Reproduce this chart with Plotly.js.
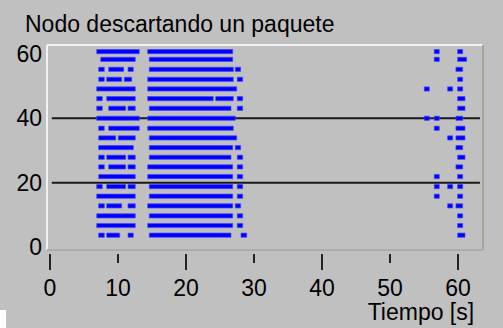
<!DOCTYPE html>
<html>
<head>
<meta charset="utf-8">
<script src="https://cdn.plot.ly/plotly-3.0.1.min.js"></script>
<style>
  html, body { margin: 0; padding: 0; background: #ffffff; }
  #chart { width: 503px; height: 328px; }
  #corner { position: absolute; left: 0; top: 310px; width: 6px; height: 18px; background: #ffffff; }
</style>
</head>
<body>
<div id="chart"></div>
<div id="corner"></div>
<script>
// ---- data ----
const titleText = 'Nodo descartando un paquete';
const xTitleText = 'Tiempo [s]';
const xTickVals = [0, 10, 20, 30, 40, 50, 60];
const xMajorTickVals = [0, 20, 40, 60];
const yTickVals = [0, 20, 40, 60];
const refLines = [20, 40];

// y position of each node row (top to bottom)
const rowY = [60.7, 58.3, 55.2, 52.1, 49.1, 46.1, 43.1, 40.0, 36.9, 33.9,
              30.9, 27.9, 24.9, 21.9, 18.8, 15.8, 12.8, 9.7, 6.7, 3.7];

// activity intervals [start, end] in seconds for each row
const segments = [
  [[6.87,13.13],[14.37,26.87],[56.51,57.25],[59.95,60.69]],
  [[7.46,12.54],[14.60,26.87],[56.51,57.25],[59.95,61.27]],
  [[7.16,7.99],[8.63,10.84],[11.47,12.25],[14.60,26.96],[27.25,28.04],[59.70,60.69]],
  [[7.16,7.99],[8.34,10.54],[10.93,12.01],[14.37,26.96],[27.54,28.34],[59.95,60.69]],
  [[6.87,12.54],[14.37,27.46],[55.04,55.78],[58.48,59.22],[59.95,60.69]],
  [[6.87,7.69],[8.34,12.54],[14.37,24.01],[24.37,26.96],[27.54,28.34],[59.95,61.03]],
  [[6.87,7.69],[8.63,11.13],[11.47,12.54],[14.60,26.62],[27.54,28.34],[59.95,61.03]],
  [[6.87,13.13],[14.37,27.25],[55.04,55.78],[56.51,57.25],[59.70,60.69]],
  [[7.16,7.99],[8.63,13.13],[14.37,26.96],[56.51,57.25],[59.70,61.03]],
  [[7.16,9.66],[10.04,12.54],[14.60,27.46],[58.48,59.22],[59.70,61.03]],
  [[7.16,12.25],[14.60,26.87],[27.25,28.04],[59.70,60.69]],
  [[7.16,7.99],[8.34,11.13],[11.47,12.54],[14.60,26.62],[27.54,28.34],[59.95,61.03]],
  [[7.16,7.99],[8.63,11.13],[11.47,12.54],[14.37,26.87],[27.54,28.34],[59.70,60.69]],
  [[7.16,12.54],[14.37,26.87],[27.54,28.34],[56.51,57.25],[59.95,60.69]],
  [[6.87,7.69],[8.34,11.13],[11.47,12.54],[14.60,26.87],[27.54,28.34],[56.51,57.25],[58.48,59.22],[59.95,60.69]],
  [[6.87,12.54],[14.60,26.87],[27.54,28.34],[56.51,57.25],[59.95,60.69]],
  [[7.16,7.99],[8.34,10.54],[11.47,12.54],[14.37,26.87],[27.25,28.04],[58.48,59.22],[59.70,60.69]],
  [[6.87,12.54],[14.60,26.87],[27.54,28.34],[59.95,60.69]],
  [[6.87,12.54],[14.37,26.87],[27.54,28.34],[59.95,60.69]],
  [[7.16,7.99],[8.34,10.25],[11.47,12.25],[14.60,26.62],[28.09,28.93],[59.95,61.03]]
];

// ---- build bar trace (horizontal bars with base = start) ----
const barY = [], barBase = [], barLen = [];
segments.forEach((row, i) => {
  row.forEach(([s, e]) => {
    barY.push(rowY[i]);
    barBase.push(s);
    barLen.push(e - s);
  });
});

const FONT = 'Arial, "Liberation Sans", Helvetica, sans-serif';
const FS = 23;

const data = [
  {
    type: 'bar',
    orientation: 'h',
    y: barY,
    x: barLen,
    base: barBase,
    width: 1.3,
    marker: { color: '#0000ff', line: { color: 'rgba(70,70,255,0.7)', width: 1 } },
    hoverinfo: 'skip',
    showlegend: false
  },
  // invisible helper traces so the extra axes (major ticks, title) are drawn
  { type: 'scatter', mode: 'markers', x: [30], y: [30], xaxis: 'x2', yaxis: 'y', opacity: 0, showlegend: false, hoverinfo: 'skip' },
  { type: 'scatter', mode: 'markers', x: [], y: [], xaxis: 'x3', yaxis: 'y', showlegend: false, hoverinfo: 'skip' }
];

const xRange = [-0.44, 63.68];
const shapes = refLines.map(v => ({
  type: 'line', xref: 'x domain', yref: 'y', x0: 0.011, x1: 0.993, y0: v, y1: v,
  line: { color: '#1a1a1a', width: 2 }, layer: 'below'
}));
// sunken frame around the plot area
shapes.push(
  { type: 'line', xref: 'x domain', yref: 'y domain', x0: 0, x1: 1, y0: 1, y1: 1, line: { color: '#f2f2f2', width: 2 } },
  { type: 'line', xref: 'x domain', yref: 'y domain', x0: 0, x1: 0, y0: 0, y1: 1, line: { color: '#f2f2f2', width: 2 } },
  { type: 'line', xref: 'x domain', yref: 'y domain', x0: 1, x1: 1, y0: 0, y1: 1, line: { color: '#a8a49c', width: 2 } },
  { type: 'line', xref: 'x domain', yref: 'y domain', x0: 0, x1: 1, y0: 0, y1: 0, line: { color: '#b0aca4', width: 2 } }
);

const layout = {
  width: 503,
  height: 328,
  paper_bgcolor: '#c0c0c0',
  plot_bgcolor: 'rgba(0,0,0,0)',
  margin: { l: 47, r: 20, t: 45, b: 75, pad: 0 },
  font: { family: FONT, size: FS, color: '#000000' },
  title: {
    text: titleText,
    font: { family: FONT, size: FS, color: '#000000' },
    xref: 'container', yref: 'container',
    x: 25 / 503, xanchor: 'left',
    y: 1 - 24 / 328, yanchor: 'middle'
  },
  bargap: 0,
  barmode: 'overlay',
  xaxis: {
    domain: [0, 1],
    range: xRange,
    anchor: 'free', position: 0,
    tickmode: 'array', tickvals: xTickVals,
    ticks: 'outside', ticklen: 9, tickwidth: 2, tickcolor: '#222222',
    tickfont: { family: FONT, size: FS, color: '#000000' },
    ticklabelstandoff: 5,
    showgrid: false, zeroline: false, showline: false, fixedrange: true
  },
  xaxis2: {
    domain: [0, 1],
    range: xRange,
    anchor: 'free', position: 0,
    tickmode: 'array', tickvals: xMajorTickVals,
    ticks: 'outside', ticklen: 16, tickwidth: 2, tickcolor: '#222222',
    showticklabels: false,
    showgrid: false, zeroline: false, showline: false, fixedrange: true
  },
  xaxis3: {
    domain: [0.7576, 0.9576],
    anchor: 'free', position: 0,
    range: [0, 1],
    ticks: '', showticklabels: false,
    showgrid: false, zeroline: false, showline: false, fixedrange: true,
    title: { text: xTitleText, font: { family: FONT, size: FS, color: '#000000' }, standoff: 50 }
  },
  yaxis: {
    domain: [3 / 208, 1],
    range: [-0.9, 62.75],
    tickmode: 'array', tickvals: yTickVals,
    ticks: '', ticklen: 0,
    tickfont: { family: FONT, size: FS, color: '#000000' },
    ticklabelstandoff: 4,
    showgrid: false, zeroline: false, showline: false, fixedrange: true
  },
  shapes: shapes
};

Plotly.newPlot('chart', data, layout, { displayModeBar: false, staticPlot: true });
</script>
</body>
</html>
